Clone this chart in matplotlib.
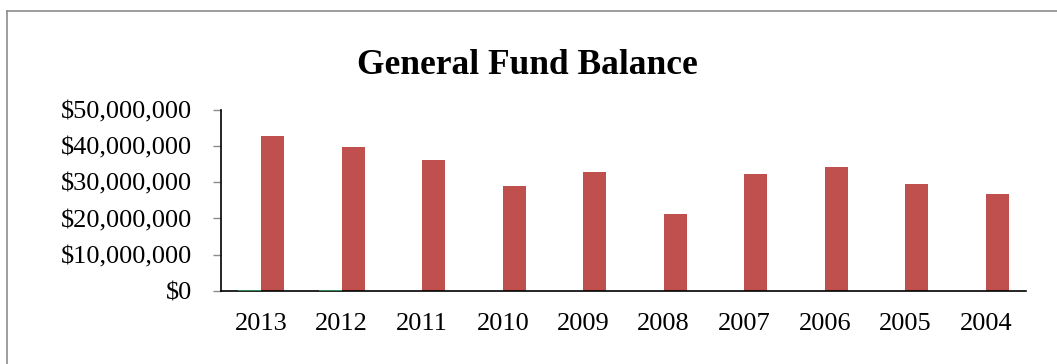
import matplotlib
matplotlib.use("Agg")
import matplotlib.pyplot as plt
from matplotlib.ticker import FuncFormatter, MultipleLocator
from matplotlib.lines import Line2D
import numpy as np

years = ["2013", "2012", "2011", "2010", "2009", "2008", "2007", "2006", "2005", "2004"]
other_fund = [400000, 400000, 50000, 0, 0, 0, 0, 0, 0, 0]
general_fund = [42800000, 39600000, 36100000, 29000000, 32900000,
                21200000, 32200000, 34100000, 29500000, 26700000]

plt.rcParams["font.family"] = ["Liberation Serif", "DejaVu Serif"]

fig = plt.figure(figsize=(10.57, 3.64), dpi=100)
W, H = 1057, 364

# outer chart frame
fig.add_artist(Line2D([7 / W, 7 / W], [0, 1 - 11 / H], transform=fig.transFigure,
                      color="#8c8c8c", lw=1.2))
fig.add_artist(Line2D([7 / W, 1], [1 - 11 / H, 1 - 11 / H], transform=fig.transFigure,
                      color="#8c8c8c", lw=1.2))

ax = fig.add_axes([221 / W, 1 - 291 / H, (1026 - 221) / W, (291 - 109.7) / H])

x = np.arange(len(years))
bw = 1 / 3.5
# small series drawn above the axis line so its thin bars stay visible
ax.bar(x - bw / 2, other_fund, width=bw, color="#2e8b57", linewidth=0, zorder=3)
ax.bar(x + bw / 2, general_fund, width=bw, color="#c0504d", linewidth=0)

ax.set_xlim(-0.5, len(years) - 0.5)
ax.set_ylim(0, 50000000)
ax.yaxis.set_major_locator(MultipleLocator(10000000))
ax.yaxis.set_major_formatter(FuncFormatter(lambda v, p: "${:,.0f}".format(v)))
ax.set_xticks(x)
ax.set_xticklabels(years)

for s in ["top", "right"]:
    ax.spines[s].set_visible(False)
ax.spines["left"].set_color("black")
ax.spines["bottom"].set_color("black")
ax.spines["left"].set_linewidth(1.2)
ax.spines["bottom"].set_linewidth(1.2)

ax.tick_params(axis="y", length=6, width=1, color="#8c8c8c", labelsize=19, pad=15)
ax.tick_params(axis="x", length=0, labelsize=19, pad=16)

fig.text(527.5 / W, 1 - 65 / H, "General Fund Balance", ha="center", va="center",
         fontsize=25.5, fontweight="bold")

fig.savefig("out.png", dpi=100)
